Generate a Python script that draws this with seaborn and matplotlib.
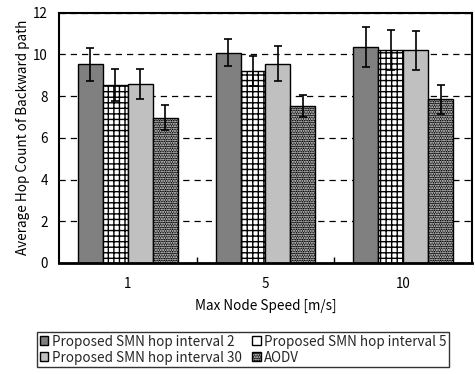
import numpy as np
import pandas as pd
import matplotlib
matplotlib.use("Agg")
import matplotlib.pyplot as plt
import matplotlib.patches as mpatches
import matplotlib.colors as mcolors
import seaborn as sns

speeds = ["1", "5", "10"]
series = ["Proposed SMN hop interval 2", "Proposed SMN hop interval 5",
          "Proposed SMN hop interval 30", "AODV"]
hop_int2 = [9.51, 10.08, 10.33]
hop_int5 = [8.52, 9.19, 10.21]
hop_int30 = [8.58, 9.55, 10.19]
aodv = [6.97, 7.53, 7.85]
err_int2 = [0.78, 0.66, 0.96]
err_int5 = [0.76, 0.72, 0.96]
err_int30 = [0.72, 0.83, 0.94]
err_aodv = [0.60, 0.52, 0.70]

values = [hop_int2, hop_int5, hop_int30, aodv]
errors = [err_int2, err_int5, err_int30, err_aodv]

rows = []
for s, vals in zip(series, values):
    for sp, v in zip(speeds, vals):
        rows.append({"speed": sp, "series": s, "hops": v})
df = pd.DataFrame(rows)

sns.set_theme(style="white")
plt.rcParams["font.family"] = ["Noto Sans CJK JP", "DejaVu Sans"]
plt.rcParams["hatch.linewidth"] = 1.0

FS = 9.7
fig = plt.figure(figsize=(4.75, 3.74), dpi=100)
ax = fig.add_axes([59 / 475, 1 - 263 / 374, 413 / 475, 250.5 / 374])

faces = ["#808080", "white", "#c0c0c0", "black"]
hatches = [None, "+++", None, "......."]
white = mcolors.to_rgba("white")


def style_patch(p, i):
    # hatched fills; the AODV dots are white on black
    if hatches[i]:
        p.set_hatch(hatches[i])
    if series[i] == "AODV":
        p._hatch_color = white
        p.stale = True


sns.barplot(data=df, x="speed", y="hops", hue="series", order=speeds,
            hue_order=series, palette=faces, errorbar=None, width=0.726,
            gap=0, edgecolor="black", linewidth=1.0, saturation=1,
            legend=False, ax=ax, zorder=2)

bars = [p for p in ax.patches if isinstance(p, mpatches.Rectangle)]
for i, s in enumerate(series):
    group = bars[i * len(speeds):(i + 1) * len(speeds)]
    xs = [p.get_x() + p.get_width() / 2 for p in group]
    for p in group:
        style_patch(p, i)
    ax.errorbar(xs, values[i], yerr=errors[i], fmt="none", ecolor="black",
                elinewidth=1.2, capsize=3, capthick=1.2, zorder=4)

ax.set_ylim(0, 12)
ax.set_xlim(-0.5, 2.5)
ax.set_yticks(range(0, 13, 2))
ax.yaxis.grid(True, color="black", linestyle=(0, (5, 4)), linewidth=0.9)
ax.set_axisbelow(True)
ax.set_xticks([0.5, 1.5], minor=True)
ax.tick_params(axis="x", which="minor", direction="in", length=4,
               width=1, color="black", bottom=True)
ax.tick_params(axis="x", which="major", length=0, pad=10, labelsize=FS,
               labelcolor="black")
ax.tick_params(axis="y", length=0, pad=8, labelsize=FS, labelcolor="black")
for side, sp in ax.spines.items():
    sp.set_color("black")
    sp.set_linewidth(1.5)
ax.spines["bottom"].set_linewidth(2.0)

ax.set_xlabel("Max Node Speed [m/s]", fontsize=FS, color="black", labelpad=6)
ax.set_ylabel("Average Hop Count of Backward path", fontsize=FS,
              color="black", labelpad=2)

handles = []
for i, s in enumerate(series):
    h = mpatches.Patch(facecolor=faces[i], edgecolor="black", linewidth=1.0,
                       label=s)
    if series[i] == "AODV":
        style_patch(h, i)
    handles.append(h)
# row-wise order: two entries per row
ordered = [handles[0], handles[2], handles[1], handles[3]]
leg = fig.legend(handles=ordered, ncol=2, loc="upper left",
                 bbox_to_anchor=(37 / 475, 1 - 332 / 374), fontsize=FS,
                 frameon=True, fancybox=False, handlelength=0.65,
                 handleheight=0.65, handletextpad=0.25, columnspacing=0.75,
                 labelspacing=0.15, borderpad=0.2, borderaxespad=0)
leg.get_frame().set_edgecolor("black")
leg.get_frame().set_linewidth(1.0)

fig.savefig("out.png", dpi=100, facecolor="white")
